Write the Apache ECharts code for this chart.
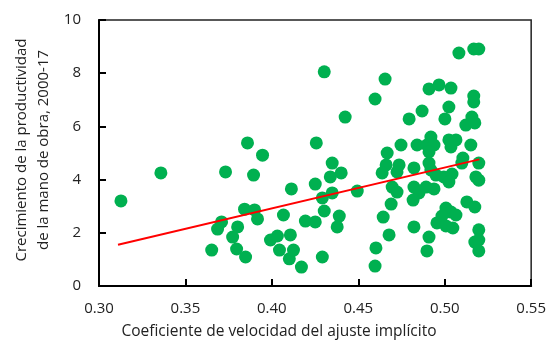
<!DOCTYPE html>
<html>
<head>
<meta charset="utf-8">
<script src="https://cdn.jsdelivr.net/npm/echarts@6/dist/echarts.min.js"></script>
<style>
  html, body { margin: 0; padding: 0; background: #fff; }
  #chart { width: 549px; height: 348px; }
</style>
</head>
<body>
<div id="chart"></div>
<script>
// Implicit adjustment speed coefficient (x) vs. labour productivity growth 2000-17 (y)
const speedCoef = [
  0.3127, 0.3358, 0.3732, 0.3652, 0.3686, 0.3709, 0.3773, 0.3802, 0.3796, 0.3848,
  0.3859, 0.3946, 0.3894, 0.3842, 0.3900, 0.3917, 0.4067, 0.4113, 0.3992, 0.4032,
  0.4044, 0.4107, 0.4101, 0.4125, 0.4171, 0.4194, 0.4251, 0.4251, 0.4303, 0.4292,
  0.4303, 0.4257, 0.4349, 0.4401, 0.4338, 0.4349, 0.4292, 0.4390, 0.4378, 0.4494,
  0.4424, 0.4655, 0.4597, 0.4794, 0.4869, 0.4667, 0.4747, 0.4840, 0.4661, 0.4638,
  0.4736, 0.4724, 0.4696, 0.4724, 0.4690, 0.4644, 0.4678, 0.4602, 0.4597, 0.4822,
  0.4822, 0.4851, 0.4817, 0.4822, 0.4920, 0.4897, 0.4938, 0.4909, 0.4909, 0.4920,
  0.4949, 0.4892, 0.4938, 0.4995, 0.5042, 0.5024, 0.4909, 0.4967, 0.5036, 0.5082,
  0.5168, 0.5197, 0.5168, 0.5168, 0.5024, 0.5001, 0.5157, 0.5122, 0.5174, 0.5024,
  0.5065, 0.5036, 0.5151, 0.5105, 0.5099, 0.5197, 0.5180, 0.5197, 0.5128, 0.5174,
  0.5007, 0.5036, 0.5065, 0.4984, 0.4955, 0.5007, 0.5047, 0.4909, 0.4897, 0.5197,
  0.5174, 0.5197, 0.5197
];
const productivityGrowth = [
  3.20, 4.25, 4.29, 1.35, 2.14, 2.41, 1.84, 2.22, 1.39, 1.09,
  5.38, 4.92, 4.17, 2.89, 2.86, 2.52, 2.67, 3.65, 1.73, 1.88,
  1.35, 1.92, 1.02, 1.35, 0.71, 2.44, 3.83, 2.41, 2.82, 1.09,
  8.05, 5.38, 4.62, 4.25, 4.10, 3.50, 3.31, 2.63, 2.22, 3.57,
  6.35, 7.78, 7.03, 6.28, 6.58, 5.00, 5.30, 5.30, 4.55, 4.25,
  4.55, 4.29, 3.72, 3.53, 3.08, 2.59, 1.92, 1.43, 0.75, 4.44,
  3.72, 3.50, 3.23, 2.22, 5.60, 5.30, 5.30, 5.04, 4.62, 4.36,
  4.17, 3.72, 3.65, 4.10, 4.21, 3.91, 7.41, 7.56, 7.44, 8.76,
  8.91, 8.91, 7.14, 6.92, 6.73, 6.28, 6.35, 6.05, 6.13, 5.49,
  5.49, 5.23, 5.30, 4.81, 4.62, 4.62, 4.10, 3.98, 3.16, 2.97,
  2.93, 2.78, 2.67, 2.63, 2.37, 2.26, 2.18, 1.84, 1.32, 2.11,
  1.65, 1.73, 1.32
];

// Linear trend line end points
const trendX = [0.311, 0.520];
const trendY = [1.55, 4.76];

const xTicks = [0.30, 0.35, 0.40, 0.45, 0.50, 0.55];
const yTicks = [0, 2, 4, 6, 8, 10];

const xTitle = 'Coeficiente de velocidad del ajuste implícito';
const yTitleLines = ['Crecimiento de la productividad', 'de la mano de obra, 2000-17'];

const FONT = '"Open Sans", "Noto Sans", sans-serif';

const points = speedCoef.map((x, i) => [x, productivityGrowth[i]]);
const trend = trendX.map((x, i) => [x, trendY[i]]);

const chart = echarts.init(document.getElementById('chart'), null, { renderer: 'canvas' });

chart.setOption({
  animation: false,
  backgroundColor: '#fff',
  textStyle: { fontFamily: FONT },
  grid: {
    left: 99, right: 17, top: 20, bottom: 62,
    show: true, borderColor: '#222', borderWidth: 1.5, backgroundColor: 'transparent'
  },
  xAxis: {
    type: 'value',
    min: xTicks[0], max: xTicks[xTicks.length - 1], interval: 0.05,
    axisLine: { show: true, onZero: false, lineStyle: { color: '#000', width: 2 } },
    axisTick: { show: true, inside: true, length: 7, lineStyle: { color: '#000', width: 2 } },
    splitLine: { show: false },
    axisLabel: {
      color: '#222', fontSize: 15, fontFamily: FONT, margin: 15,
      formatter: v => v.toFixed(2)
    }
  },
  yAxis: {
    type: 'value',
    min: yTicks[0], max: yTicks[yTicks.length - 1], interval: 2,
    axisLine: { show: true, onZero: false, lineStyle: { color: '#000', width: 2 } },
    axisTick: { show: true, inside: true, length: 7, lineStyle: { color: '#000', width: 2 } },
    splitLine: { show: false },
    axisLabel: { color: '#222', fontSize: 15, fontFamily: FONT, margin: 18 }
  },
  graphic: [
    {
      type: 'text', x: 279, y: 324,
      style: { text: xTitle, fill: '#222', font: '15.5px ' + FONT, textAlign: 'center' }
    },
    {
      type: 'text', x: 14, y: 150, rotation: Math.PI / 2,
      style: { text: yTitleLines[0], fill: '#222', font: '15px ' + FONT, textAlign: 'center', textVerticalAlign: 'top' }
    },
    {
      type: 'text', x: 36, y: 150, rotation: Math.PI / 2,
      style: { text: yTitleLines[1], fill: '#222', font: '15px ' + FONT, textAlign: 'center', textVerticalAlign: 'top' }
    }
  ],
  series: [
    {
      type: 'scatter',
      data: points,
      symbol: 'circle',
      symbolSize: 13,
      itemStyle: { color: '#00b050', opacity: 1 },
      z: 2
    },
    {
      type: 'line',
      data: trend,
      symbol: 'none',
      lineStyle: { color: '#ff0000', width: 2 },
      z: 3
    }
  ]
});
</script>
</body>
</html>
